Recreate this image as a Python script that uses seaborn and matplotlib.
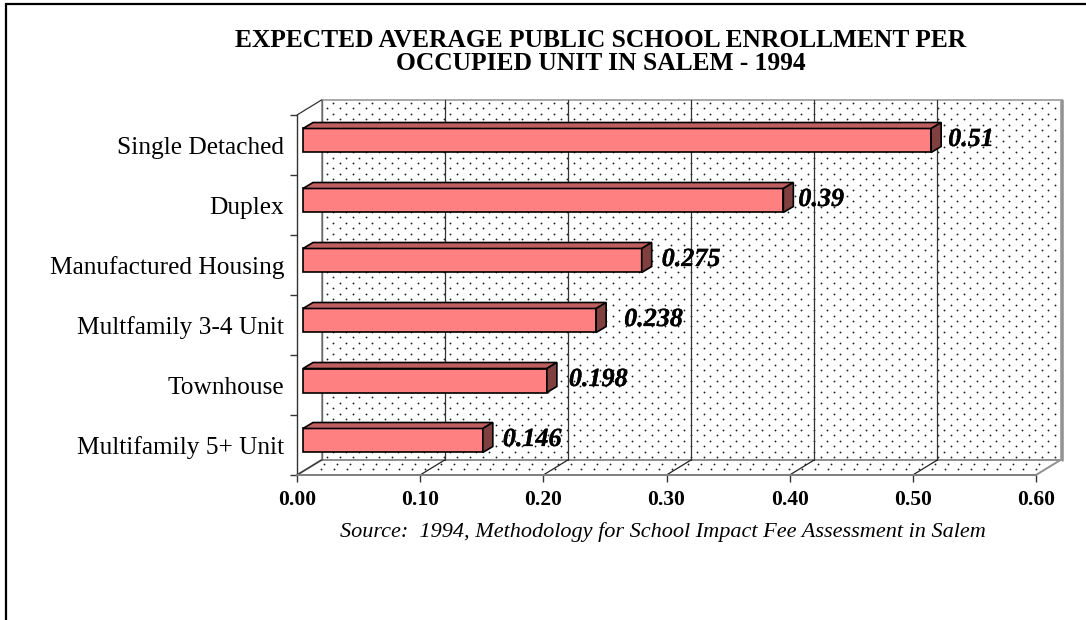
import numpy as np
import pandas as pd
import matplotlib
matplotlib.use("Agg")
import matplotlib.pyplot as plt
import matplotlib.patheffects as pe
from matplotlib.patches import Polygon
from matplotlib.transforms import Affine2D
import seaborn as sns

categories = ["Single Detached", "Duplex", "Manufactured Housing",
              "Multfamily 3-4 Unit", "Townhouse", "Multifamily 5+ Unit"]
values = [0.51, 0.39, 0.275, 0.238, 0.198, 0.146]
xticks = [0.0, 0.1, 0.2, 0.3, 0.4, 0.5, 0.6]
label_gaps = [17, 15, 20, 28, 22, 20]
title = "EXPECTED AVERAGE PUBLIC SCHOOL ENROLLMENT PER\nOCCUPIED UNIT IN SALEM - 1994"
source = "Source:  1994, Methodology for School Impact Fee Assessment in Salem"

W, H = 1086, 620
sns.set_theme(style="white")
plt.rcParams["font.family"] = ["Liberation Serif", "DejaVu Serif"]
fig = plt.figure(figsize=(W / 100, H / 100), dpi=100, facecolor="white")

def box(x0, ytop, x1, ybot):
    return [x0 / W, 1 - ybot / H, (x1 - x0) / W, (ybot - ytop) / H]

# page layer in pixel coordinates
page = fig.add_axes([0, 0, 1, 1], zorder=0)
page.set_xlim(0, W); page.set_ylim(H, 0); page.axis("off")
FX0, FX1, FY0, FY1 = 297, 1036, 115, 475
DX, DY = 24.5, -15
page.plot([6, 6, 1086], [620, 4, 4], color="black", lw=1.6, solid_joinstyle="miter")
page.add_patch(Polygon([(FX0 + DX, FY0 + DY), (FX1 + DX, FY0 + DY), (FX1 + DX, FY1 + DY), (FX0 + DX, FY1 + DY)],
                       fc="white", ec="#a8a8a8", lw=1.4, zorder=1))
page.add_patch(Polygon([(FX0, FY1), (FX1, FY1), (FX1 + DX, FY1 + DY), (FX0 + DX, FY1 + DY)],
                       fc="white", ec="#909090", lw=1.4, zorder=1))
# stippled wall and floor
wx, wy = [], []
for r, y in enumerate(np.arange(FY0 + DY + 3, FY1 + DY - 1, 5.45)):
    xs = np.arange(FX0 + DX + 5 + ((r + 1) % 2) * 6.5, FX1 + DX - 3, 13)
    wx.extend(xs); wy.extend([y] * len(xs))
for r, y in enumerate(np.arange(FY1 + DY + 3.5, FY1 - 1, 5.45)):
    shift = (y - FY1 - DY) * DX / -DY
    xs = np.arange(FX0 + DX - shift + 8 + (r % 2) * 6.5, FX1 + DX - shift - 3, 13)
    wx.extend(xs); wy.extend([y] * len(xs))
page.scatter(wx, wy, s=1.7, color="#1a1a1a", linewidths=0, zorder=1.5)
page.plot([FX1 + DX + 1.0] * 2, [FY0 + DY, FY1 + DY], color="#909090", lw=1.8, zorder=2)
# wall gridlines and floor ticks
for t in xticks[:-1]:
    x = FX0 + (FX1 - FX0) * t / 0.6
    if t > 0:
        page.plot([x + DX, x + DX], [FY0 + DY, FY1 + DY], color="#333333", lw=0.9, zorder=2)
        page.plot([x, x + DX], [FY1, FY1 + DY], color="#222222", lw=0.9, zorder=2)
page.plot([FX0 + DX] * 2, [FY0 + DY, FY1 + DY], color="#666666", lw=1.0, zorder=2)
page.plot([FX0, FX0 + DX], [FY0, FY0 + DY], color="#333333", lw=0.9, zorder=2)
page.plot([FX0, FX0 + DX], [FY1, FY1 + DY], color="#333333", lw=0.9, zorder=2)

# front plane axes with the scales
ax = fig.add_axes(box(FX0, FY0, FX1, FY1), zorder=1)
ax.patch.set_alpha(0)
df = pd.DataFrame({"category": categories, "value": values})
sns.barplot(data=df, x="value", y="category", ax=ax, color="#ff8080", saturation=1,
            width=0.4, edgecolor="black", linewidth=1.2, zorder=3)
ax.set_xlim(0, 0.6); ax.set_ylim(5.5, -0.5)
ax.set_xlabel(""); ax.set_ylabel("")
ax.set_xticks(xticks)
ax.set_xticklabels([f"{t:.2f}" for t in xticks], fontsize=15.5, fontweight="bold", color="black")
ax.set_yticks(np.arange(-0.5, 6.5))
ax.set_yticklabels([])
ax.tick_params(axis="x", length=5, width=1, color="#333333", pad=6, bottom=True)
ax.tick_params(axis="y", length=5, width=1, color="#333333", left=True)
for s in ["top", "right"]:
    ax.spines[s].set_visible(False)
ax.spines["left"].set_color("#333333"); ax.spines["left"].set_linewidth(1)
ax.spines["bottom"].set_color("#808080"); ax.spines["bottom"].set_linewidth(1.4)
for i, c in enumerate(categories):
    ax.annotate(c, (0, i), xytext=(-13, -3), textcoords="offset pixels", ha="right", va="center",
                fontsize=18.3, color="black", annotation_clip=False)

# bars sit slightly behind the front plane
base = ax.transData + Affine2D().translate(6, 4.5)
BD, BH = 10, 6
for i, (patch, v, gap) in enumerate(zip(ax.patches, values, label_gaps)):
    patch.set_transform(base)
    y0, y1 = i - 0.2, i + 0.2
    p = lambda dx, dy, xv, yv: tuple(base.transform((xv, yv)) + np.array([dx, dy]))
    top = [p(0, 0, 0, y0), p(0, 0, v, y0), p(BD, BH, v, y0), p(BD, BH, 0, y0)]
    side = [p(0, 0, v, y0), p(BD, BH, v, y0), p(BD, BH, v, y1), p(0, 0, v, y1)]
    for pts, fc in ((top, "#bf6060"), (side, "#804040")):
        ax.add_patch(Polygon(pts, closed=True, transform=None, fc=fc, ec="black", lw=1.2, zorder=3))
    ax.annotate(str(v), (v, i), xycoords=base, xytext=(gap, 1), textcoords="offset pixels",
                ha="left", va="center", fontsize=18.8, fontweight="bold", fontstyle="italic",
                color="black", annotation_clip=False, zorder=5,
                path_effects=[pe.withStroke(linewidth=0.2, foreground="black")])

page.text(601, 52, title, ha="center", va="center", fontsize=18.4, fontweight="bold",
          linespacing=1.05, color="black")
page.text(663, 532, source, ha="center", va="center", fontsize=16, fontstyle="italic", color="black")
fig.savefig("out.png", dpi=100, facecolor="white")
